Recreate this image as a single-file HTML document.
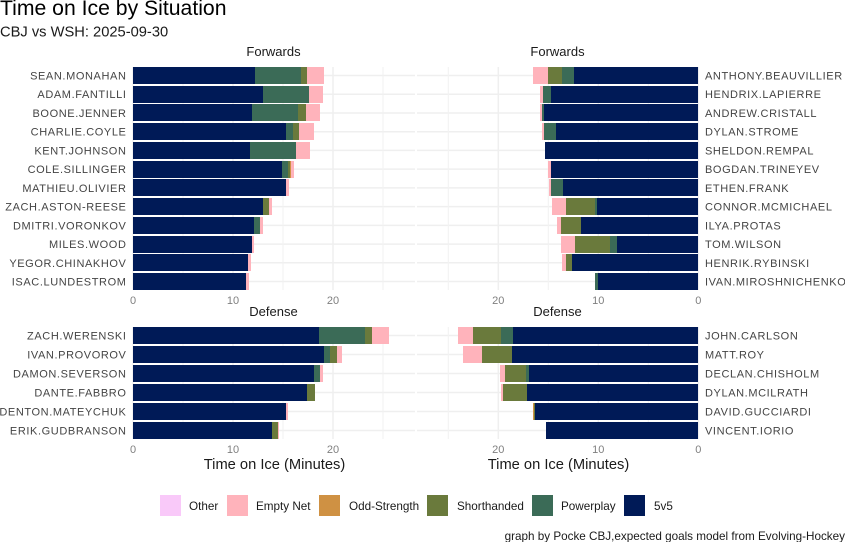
<!DOCTYPE html>
<html lang="en">
<head>
<meta charset="utf-8">
<title>Time on Ice by Situation</title>
<style>
html,body{margin:0;padding:0;background:#fff;width:845px;height:542px;overflow:hidden}
svg{display:block;font-family:"Liberation Sans",Arial,sans-serif}
</style>
</head>
<body>
<svg id="chart" xmlns="http://www.w3.org/2000/svg" width="845" height="542" viewBox="0 0 845 542">
  <rect x="0" y="0" width="845" height="542" fill="#ffffff"/>
  <text x="0" y="15" font-size="21.2" fill="#000">Time on Ice by Situation</text>
  <text x="0" y="36.5" font-size="14.7" fill="#1a1a1a">CBJ vs WSH: 2025-09-30</text>
  <text x="845" y="540" font-size="11.7" text-anchor="end" fill="#1a1a1a">graph by Pocke CBJ,expected goals model from Evolving-Hockey</text>
  <g id="panels"></g>
  <g id="legend"></g>
</svg>
<script>
const tickValues = [0, 10, 20];
const minorGridValues = [5, 15, 25];
const seriesNames = ['5v5', 'Powerplay', 'Shorthanded', 'Odd-Strength', 'Empty Net'];
const legendLabels = ['Other', 'Empty Net', 'Odd-Strength', 'Shorthanded', 'Powerplay', '5v5'];

const cbjForwards = ['SEAN.MONAHAN','ADAM.FANTILLI','BOONE.JENNER','CHARLIE.COYLE','KENT.JOHNSON','COLE.SILLINGER','MATHIEU.OLIVIER','ZACH.ASTON-REESE','DMITRI.VORONKOV','MILES.WOOD','YEGOR.CHINAKHOV','ISAC.LUNDESTROM'];
const cbjF5v5 = [12.2,13.0,11.9,15.3,11.7,14.9,15.3,13.0,12.1,11.9,11.5,11.3];
const cbjFPowerplay = [4.6,4.6,4.6,0.7,4.6,0.6,0,0,0.6,0,0,0];
const cbjFShorthanded = [0.6,0,0.8,0.6,0,0.15,0,0.6,0,0,0,0];
const cbjFOddStrength = [0,0,0,0,0,0.15,0,0,0,0,0,0];
const cbjFEmptyNet = [1.7,1.4,1.4,1.5,1.4,0.3,0.3,0.3,0.3,0.2,0.3,0.3];

const wshForwards = ['ANTHONY.BEAUVILLIER','HENDRIX.LAPIERRE','ANDREW.CRISTALL','DYLAN.STROME','SHELDON.REMPAL','BOGDAN.TRINEYEV','ETHEN.FRANK','CONNOR.MCMICHAEL','ILYA.PROTAS','TOM.WILSON','HENRIK.RYBINSKI','IVAN.MIROSHNICHENKO'];
const wshF5v5 = [12.4,14.7,15.4,14.2,15.3,14.7,13.5,10.1,11.7,8.1,12.6,10.0];
const wshFPowerplay = [1.2,0.8,0.2,1.2,0,0,1.2,0.2,0,0.7,0,0.3];
const wshFShorthanded = [1.4,0,0,0,0,0,0,2.9,2.0,3.5,0.6,0];
const wshFOddStrength = [0,0,0,0,0,0,0,0,0,0,0,0];
const wshFEmptyNet = [1.5,0.3,0.2,0.2,0,0.3,0.2,1.4,0.4,1.4,0.4,0];

const cbjDefense = ['ZACH.WERENSKI','IVAN.PROVOROV','DAMON.SEVERSON','DANTE.FABBRO','DENTON.MATEYCHUK','ERIK.GUDBRANSON'];
const cbjD5v5 = [18.6,19.1,18.1,17.4,15.3,13.9];
const cbjDPowerplay = [4.6,0.6,0.6,0,0,0];
const cbjDShorthanded = [0.7,0.7,0,0.8,0,0.6];
const cbjDOddStrength = [0,0,0,0,0,0];
const cbjDEmptyNet = [1.7,0.5,0.3,0,0.2,0.1];

const wshDefense = ['JOHN.CARLSON','MATT.ROY','DECLAN.CHISHOLM','DYLAN.MCILRATH','DAVID.GUCCIARDI','VINCENT.IORIO'];
const wshD5v5 = [18.5,18.6,16.9,17.1,16.3,15.2];
const wshDPowerplay = [1.2,0,0.3,0,0,0];
const wshDShorthanded = [2.8,3.0,2.1,2.4,0.1,0];
const wshDOddStrength = [0,0,0,0,0.1,0];
const wshDEmptyNet = [1.5,1.9,0.5,0.2,0,0];

const SVGNS = 'http://www.w3.org/2000/svg';
const colorFor = {
  'Other': '#f9c9f9',
  'Empty Net': '#ffb3bb',
  'Odd-Strength': '#cf9143',
  'Shorthanded': '#6a7a3c',
  'Powerplay': '#3b6b57',
  '5v5': '#001a57'
};

function make(parent, tag, props, text) {
  const el = document.createElementNS(SVGNS, tag);
  for (const k in props) el.setAttribute(k, props[k]);
  if (text !== undefined) el.textContent = text;
  parent.appendChild(el);
  return el;
}
function slug(s) {
  return String(s).toLowerCase().replace(/[^a-z0-9]+/g, '-');
}

function drawPanel(root, cfg) {
  const x = v => cfg.zeroX + cfg.dir * v * 10;
  const y = i => cfg.firstY + i * cfg.pitch;
  const g = make(root, 'g', {});
  
  

  // grid
  cfg.players.forEach((p, i) => {
    const line = make(g, 'line', {x1: cfg.left, x2: cfg.right, y1: y(i), y2: y(i), stroke: '#efefef', 'stroke-width': 1.5});
    
    
  });
  minorGridValues.forEach(v => {
    const line = make(g, 'line', {x1: x(v), x2: x(v), y1: cfg.top, y2: cfg.bottom, stroke: '#f2f2f2', 'stroke-width': 1});
    
    
  });
  tickValues.forEach(v => {
    const line = make(g, 'line', {x1: x(v), x2: x(v), y1: cfg.top, y2: cfg.bottom, stroke: '#efefef', 'stroke-width': 1.5});
    
    
  });

  // stacked bars
  cfg.players.forEach((p, i) => {
    let start = 0;
    seriesNames.forEach((name, s) => {
      const val = cfg.series[s][i];
      if (val > 0) {
        const x0 = Math.round(x(start));
        const x1 = Math.round(x(start + val));
        const rect = make(g, 'rect', {
          x: Math.min(x0, x1),
          y: Math.round(y(i) - 8.5),
          width: Math.abs(x1 - x0),
          height: 17,
          fill: colorFor[name],
          'shape-rendering': 'crispEdges'
        });
        
        
      }
      start += val;
    });
    const label = make(g, 'text', {
      x: cfg.labelX,
      y: y(i) + 4,
      'font-size': 11,
      'letter-spacing': '0.6',
      fill: '#444444',
      'text-anchor': cfg.dir > 0 ? 'end' : 'start'
    }, p);
    
    
  });

  // ticks
  tickValues.forEach(v => {
    const t = make(g, 'text', {x: x(v), y: cfg.tickY, 'font-size': 11, fill: '#7f7f7f', 'text-anchor': 'middle'}, v);
    
    
  });

  // facet title
  const title = make(g, 'text', {x: cfg.titleX, y: cfg.titleY, 'font-size': 13, fill: '#1a1a1a', 'text-anchor': 'middle'}, cfg.title);
  
  

  if (cfg.axisTitleX) {
    const at = make(g, 'text', {x: cfg.axisTitleX, y: 469, 'font-size': 14.7, fill: '#1a1a1a', 'text-anchor': 'middle'}, 'Time on Ice (Minutes)');
    
    
  }
}

const panelsRoot = document.getElementById('panels');
drawPanel(panelsRoot, {
  id: 'cbj-forwards', title: 'Forwards', players: cbjForwards,
  series: [cbjF5v5, cbjFPowerplay, cbjFShorthanded, cbjFOddStrength, cbjFEmptyNet],
  zeroX: 133, dir: 1, left: 133, right: 415, top: 67, bottom: 290,
  firstY: 75.5, pitch: 18.73, labelX: 126.5, tickY: 304, titleX: 273.5, titleY: 56
});
drawPanel(panelsRoot, {
  id: 'wsh-forwards', title: 'Forwards', players: wshForwards,
  series: [wshF5v5, wshFPowerplay, wshFShorthanded, wshFOddStrength, wshFEmptyNet],
  zeroX: 698.3, dir: -1, left: 417, right: 699, top: 67, bottom: 290,
  firstY: 75.5, pitch: 18.73, labelX: 705, tickY: 304, titleX: 557.5, titleY: 56
});
drawPanel(panelsRoot, {
  id: 'cbj-defense', title: 'Defense', players: cbjDefense,
  series: [cbjD5v5, cbjDPowerplay, cbjDShorthanded, cbjDOddStrength, cbjDEmptyNet],
  zeroX: 133, dir: 1, left: 133, right: 415, top: 327, bottom: 439,
  firstY: 335.5, pitch: 19, labelX: 126.5, tickY: 453, titleX: 273.5, titleY: 316, axisTitleX: 274.5
});
drawPanel(panelsRoot, {
  id: 'wsh-defense', title: 'Defense', players: wshDefense,
  series: [wshD5v5, wshDPowerplay, wshDShorthanded, wshDOddStrength, wshDEmptyNet],
  zeroX: 698.3, dir: -1, left: 417, right: 699, top: 327, bottom: 439,
  firstY: 335.5, pitch: 19, labelX: 705, tickY: 453, titleX: 557.5, titleY: 316, axisTitleX: 558.5
});

const legendRoot = document.getElementById('legend');
const legendSwatchX = {'Other': 160, 'Empty Net': 227, 'Odd-Strength': 319, 'Shorthanded': 427, 'Powerplay': 532, '5v5': 624};
const legendTextX = {'Other': 189, 'Empty Net': 256, 'Odd-Strength': 349, 'Shorthanded': 457, 'Powerplay': 561, '5v5': 654};
legendLabels.forEach(name => {
  const sw = make(legendRoot, 'rect', {x: legendSwatchX[name], y: 495, width: 21, height: 21, fill: colorFor[name], 'shape-rendering': 'crispEdges'});
  
  
  const tx = make(legendRoot, 'text', {x: legendTextX[name], y: 510, 'font-size': 11.7, fill: '#1a1a1a'}, name);
  
  
});
</script>
</body>
</html>
